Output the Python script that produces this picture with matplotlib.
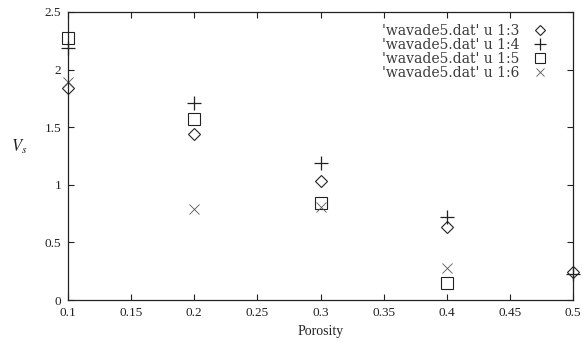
import matplotlib.pyplot as plt

# Porosity values and V_s for each column of wavade5.dat
porosity = [0.1, 0.2, 0.3, 0.4, 0.5]
col3 = [1.84, 1.44, 1.03, 0.63, 0.24]
col4 = [2.19, 1.71, 1.19, 0.72, 0.23]
col5 = [2.27, 1.57, 0.84, 0.15]
col6 = [1.89, 0.79, 0.81, 0.28]
labels = ["'wavade5.dat' u 1:3", "'wavade5.dat' u 1:4",
          "'wavade5.dat' u 1:5", "'wavade5.dat' u 1:6"]

plt.rcParams['font.family'] = ['Liberation Serif', 'DejaVu Serif']
plt.rcParams['mathtext.fontset'] = 'stix'
ink = '#222222'

fig = plt.figure(figsize=(5.86, 3.51), dpi=100)
ax = fig.add_axes([0.116, 0.145, 0.862, 0.821])

kw = dict(linestyle='none', clip_on=False, color=ink)
ax.plot(porosity, col3, marker='D', markersize=6, fillstyle='none',
        mew=0.8, label=labels[0], **kw)
ax.plot(porosity, col4, marker='+', markersize=10, mew=0.9,
        label=labels[1], **kw)
ax.plot(porosity[:4], col5, marker='s', markersize=8, fillstyle='none',
        mew=0.8, label=labels[2], **kw)
ax.plot(porosity[:4], col6, marker='x', markersize=7, mew=0.6,
        label=labels[3], linestyle='none', clip_on=False, color='#555555')

ax.set_xlim(0.1, 0.5)
ax.set_ylim(0, 2.5)
xt = [0.1, 0.15, 0.2, 0.25, 0.3, 0.35, 0.4, 0.45, 0.5]
ax.set_xticks(xt)
ax.set_xticklabels(['0.1', '0.15', '0.2', '0.25', '0.3', '0.35', '0.4', '0.45', '0.5'])
yt = [0, 0.5, 1, 1.5, 2, 2.5]
ax.set_yticks(yt)
ax.set_yticklabels(['0', '0.5', '1', '1.5', '2', '2.5'])
ax.tick_params(direction='in', length=4, width=0.8, top=True, right=True,
               labelsize=9.5, colors=ink, pad=5)
for s in ax.spines.values():
    s.set_color(ink)
    s.set_linewidth(0.9)

ax.set_xlabel('Porosity', fontsize=10, color=ink, labelpad=4)
ax.set_ylabel('$V_s$', fontsize=12, color=ink, rotation=0, labelpad=18)

leg = ax.legend(loc='upper right', markerfirst=False, frameon=False,
                prop={'family': 'DejaVu Serif', 'size': 10},
                handlelength=1.0, handletextpad=1.0,
                labelspacing=0.0, borderaxespad=0.0, markerscale=0.85,
                bbox_to_anchor=(0.96, 0.978))
for t in leg.get_texts():
    t.set_color('#3a3a3a')

fig.savefig('out.png', dpi=100)
